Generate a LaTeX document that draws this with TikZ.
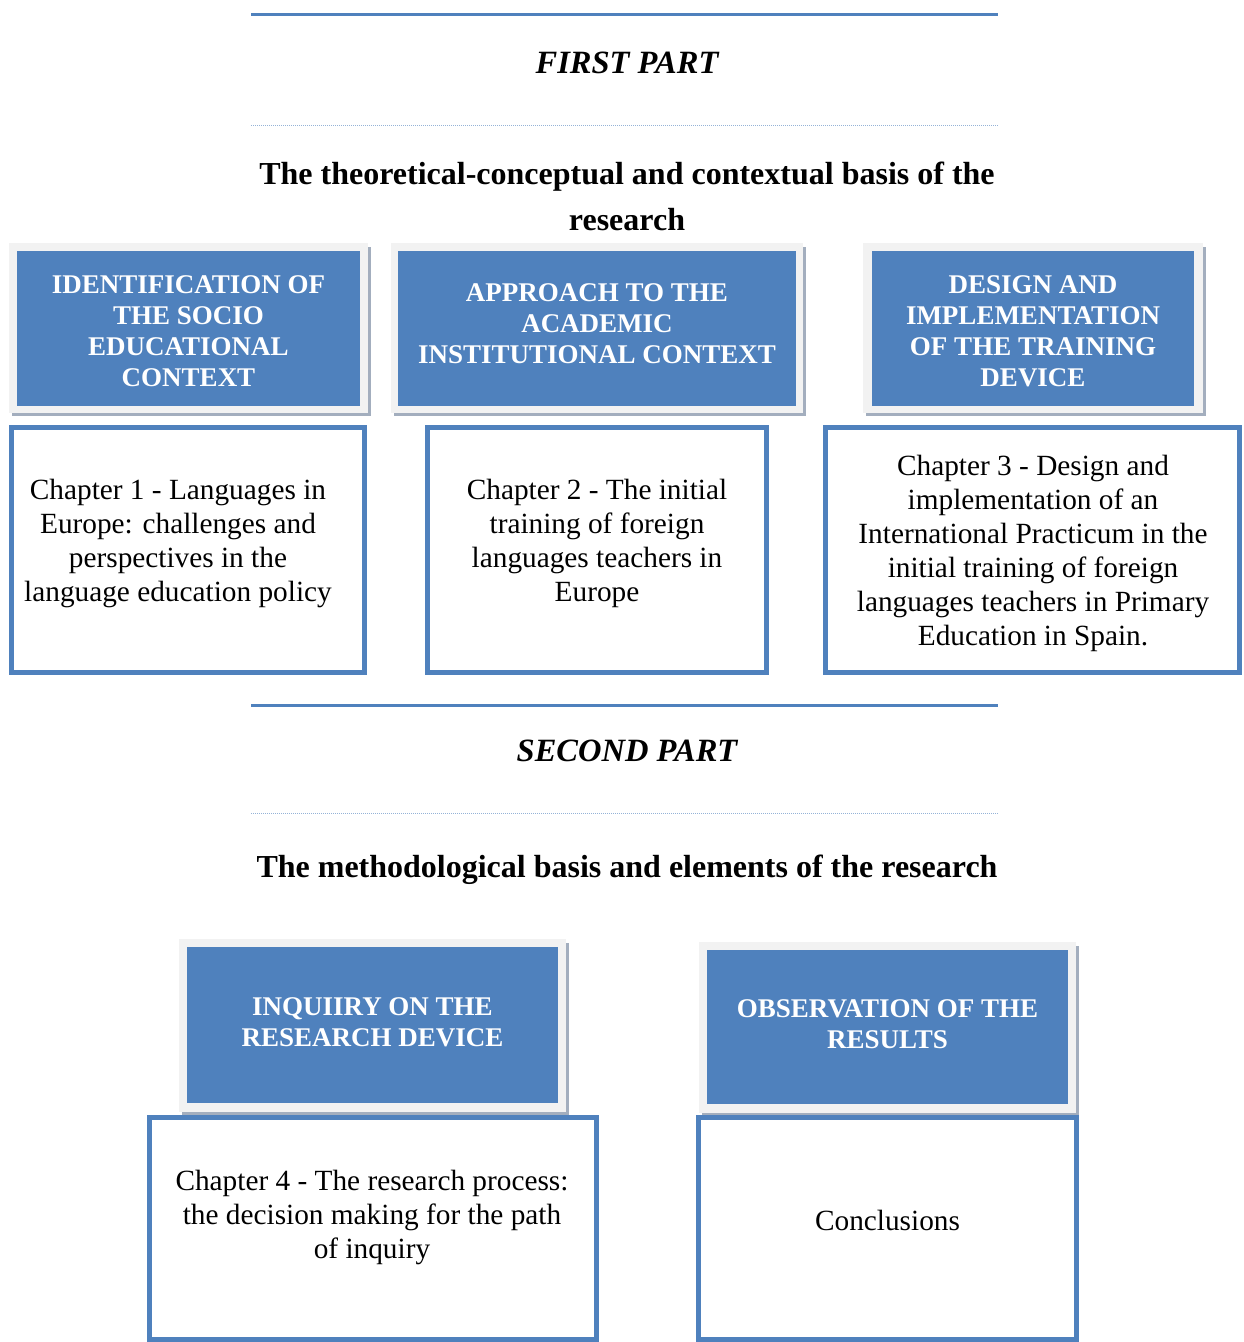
\documentclass[tikz,border=0pt]{standalone}
\usepackage{fontspec}
\setmainfont{Liberation Serif}
\begin{document}
\begin{tikzpicture}[x=1pt,y=-1pt,
  blueline/.style={draw=accent,line width=3pt},
  dotline/.style={draw=lightacc,line width=1pt,dash pattern=on 1pt off 1pt},
  frame/.style={draw=none,fill=framegray,inner sep=0pt},
  shadowbox/.style={draw=shadowgray,fill=shadowgray,line width=0.5pt},
  hdr/.style={fill=accent,draw=none,inner sep=0pt},
  hdrtext/.style={text=white,align=center,font=\fontsize{27}{31}\selectfont\bfseries,inner sep=0pt},
  chapbox/.style={draw=accent,line width=5pt,fill=white},
  chaptext/.style={align=center,font=\fontsize{29.3}{34}\selectfont,inner sep=0pt},
  parttext/.style={font=\fontsize{32.5}{36}\selectfont\bfseries\itshape,inner sep=0pt},
  headtext/.style={align=center,font=\fontsize{32}{46}\selectfont\bfseries,inner sep=0pt}
]
\definecolor{accent}{HTML}{4F81BD}
\definecolor{lightacc}{HTML}{95B3D7}
\definecolor{framegray}{HTML}{F2F2F2}
\definecolor{shadowgray}{HTML}{A3AEBE}
\useasboundingbox[fill=white] (0,0) rectangle (1243,1342);

% ---------- FIRST PART ----------
\coordinate (l1a) at (251,14); \coordinate (l1b) at (998,14);
\draw[blueline] (l1a) -- (l1b);
\node[parttext] (p1) at (627,63) {FIRST PART};
\coordinate (d1a) at (251,125); \coordinate (d1b) at (998,125);
\draw[dotline] (d1a) -- (d1b);
\node[headtext] (h1) at (627,196) {The theoretical-conceptual and contextual basis of the\\research};

% header box 1
\fill[shadowgray] (12,247) rectangle (371,416);
\fill[framegray] (9,243) rectangle (368,413);
\node[hdr,minimum width=343pt,minimum height=155pt] (hb1) at (188.5,328.5) {};
\node[hdrtext] (ht1) at (188.5,331) {IDENTIFICATION OF\\THE SOCIO\\EDUCATIONAL\\CONTEXT};
% header box 2
\fill[shadowgray] (394,247) rectangle (806,416);
\fill[framegray] (391,243) rectangle (803,413);
\node[hdr,minimum width=398pt,minimum height=155pt] (hb2) at (597,328.5) {};
\node[hdrtext] (ht2) at (597,324) {APPROACH TO THE\\ACADEMIC\\INSTITUTIONAL CONTEXT};
% header box 3
\fill[shadowgray] (866,247) rectangle (1206,416);
\fill[framegray] (863,243) rectangle (1203,413);
\node[hdr,minimum width=322pt,minimum height=155pt] (hb3) at (1033,328.5) {};
\node[hdrtext] (ht3) at (1033,331) {DESIGN AND\\IMPLEMENTATION\\OF THE TRAINING\\DEVICE};

% chapter boxes
\node[chapbox,minimum width=353pt,minimum height=245pt] (cb1) at (188,550) {};
\node[chaptext] (ct1) at (178,543) {Chapter 1 - Languages in\\Europe: challenges and\\perspectives in the\\language education policy};
\node[chapbox,minimum width=339pt,minimum height=245pt] (cb2) at (597,550) {};
\node[chaptext] (ct2) at (597,543) {Chapter 2 - The initial\\training of foreign\\languages teachers in\\Europe};
\node[chapbox,minimum width=414pt,minimum height=245pt] (cb3) at (1032.5,550) {};
\node[chaptext] (ct3) at (1033,553) {Chapter 3 - Design and\\implementation of an\\International Practicum in the\\initial training of foreign\\languages teachers in Primary\\Education in Spain.};

% ---------- SECOND PART ----------
\coordinate (l2a) at (251,705); \coordinate (l2b) at (998,705);
\draw[blueline] (l2a) -- (l2b);
\node[parttext] (p2) at (627,751) {SECOND PART};
\coordinate (d2a) at (251,813); \coordinate (d2b) at (998,813);
\draw[dotline] (d2a) -- (d2b);
\node[headtext] (h2) at (627,870) {The methodological basis and elements of the research};

% header box 4
\fill[shadowgray] (182,943) rectangle (569,1115);
\fill[framegray] (179,939) rectangle (566,1112);
\node[hdr,minimum width=371pt,minimum height=156pt] (hb4) at (372.5,1025) {};
\node[hdrtext] (ht4) at (372.5,1022) {INQUIIRY ON THE\\RESEARCH DEVICE};
% header box 5
\fill[shadowgray] (702,946) rectangle (1079,1116);
\fill[framegray] (699,942) rectangle (1076,1113);
\node[hdr,minimum width=361pt,minimum height=154pt] (hb5) at (887.5,1027) {};
\node[hdrtext] (ht5) at (887.5,1024.5) {OBSERVATION OF THE\\RESULTS};

% chapter boxes 4, 5
\node[chapbox,minimum width=447pt,minimum height=222pt] (cb4) at (373,1228.5) {};
\node[chaptext] (ct4) at (372,1217) {Chapter 4 - The research process:\\the decision making for the path\\of inquiry};
\node[chapbox,minimum width=378pt,minimum height=222pt] (cb5) at (887.5,1228.5) {};
\node[chaptext] (ct5) at (887.5,1220) {Conclusions};
\end{tikzpicture}
\end{document}
